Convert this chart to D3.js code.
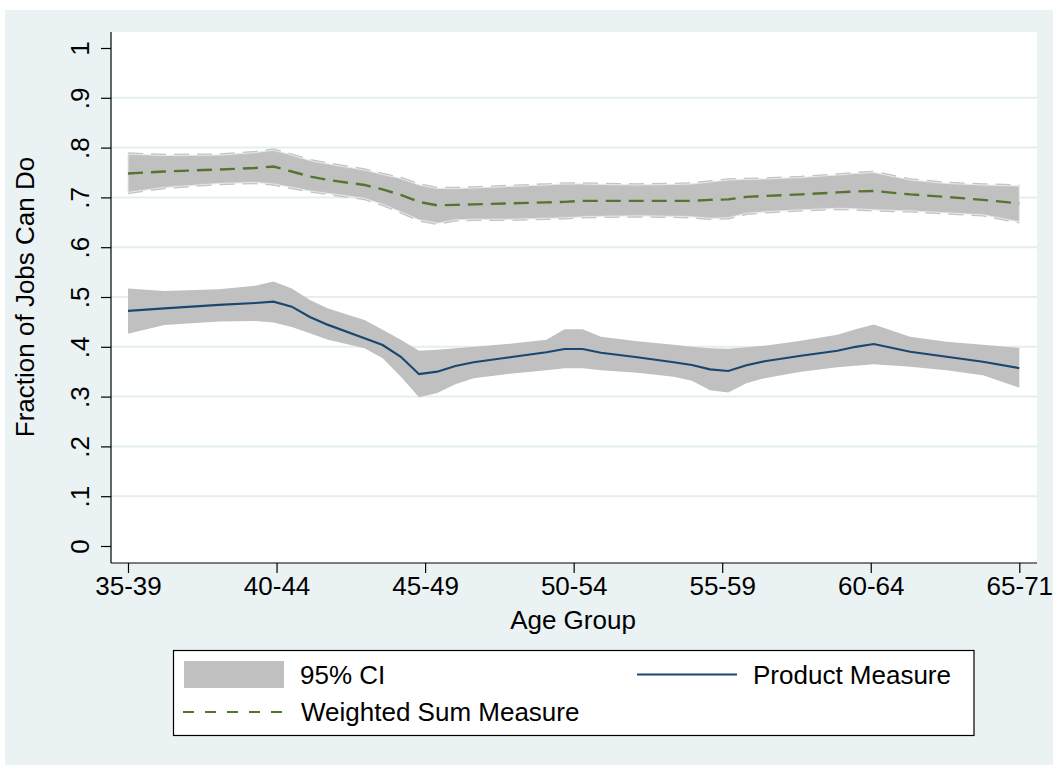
<!DOCTYPE html>
<html><head><meta charset="utf-8">
<script src="https://cdn.jsdelivr.net/npm/d3@7/dist/d3.min.js"></script>
<style>
html,body{margin:0;padding:0;background:#fff;}
text{font-family:"Liberation Sans",Arial,sans-serif;fill:#000;}
</style></head>
<body>
<svg id="chart" width="1053" height="765"></svg>
<script>
// ---- data (x = point index along the age axis, 0..49) ----
const ageGroups = ["35-39","40-44","45-49","50-54","55-59","60-64","65-71"];
const yTicks = [0,0.1,0.2,0.3,0.4,0.5,0.6,0.7,0.8,0.9,1];
const yTickLabels = ["0",".1",".2",".3",".4",".5",".6",".7",".8",".9","1"];
const pointIndex = [0,2,5,7,8,9,10,11,13,14,15,16,17,18,19,21,23,24,25,26,28,30,31,32,33,34,35,37,39,40,41,43,45,47,49];
const productMeasure = [.472,.477,.484,.488,.4906,.4806,.460,.444,.417,.4036,.380,.345,.350,.3614,.369,.379,.389,.3956,.3956,.388,.379,.369,.3635,.3548,.3514,.363,.371,.382,.392,.400,.4056,.390,.380,.370,.357];
const productUpper = [.517,.512,.5155,.5227,.531,.517,.494,.477,.454,.434,.414,.392,.394,.397,.400,.406,.414,.435,.435,.420,.411,.404,.400,.397,.396,.399,.402,.412,.424,.435,.445,.420,.410,.404,.398];
const productLower = [.426,.444,.451,.452,.449,.440,.427,.414,.397,.377,.340,.2985,.307,.325,.337,.346,.353,.357,.357,.353,.348,.340,.332,.313,.308,.327,.337,.350,.359,.362,.365,.360,.353,.343,.318];
const weightedSum = [.748,.752,.756,.759,.762,.752,.742,.735,.725,.716,.705,.691,.684,.685,.686,.688,.690,.691,.693,.693,.693,.693,.693,.695,.696,.701,.703,.706,.710,.712,.713,.706,.701,.695,.688];
const weightedUpper = [.787,.784,.785,.790,.795,.785,.774,.767,.755,.746,.738,.725,.718,.718,.719,.722,.725,.727,.727,.726,.725,.726,.727,.731,.735,.736,.737,.740,.745,.748,.750,.735,.728,.725,.723];
const weightedLower = [.710,.720,.728,.730,.727,.720,.713,.708,.698,.686,.671,.655,.648,.655,.656,.656,.658,.659,.661,.662,.663,.662,.661,.658,.659,.668,.671,.675,.678,.677,.675,.673,.669,.665,.651];
const legendLabels = ["95% CI","Product Measure","Weighted Sum Measure"];

const nPoints = 49; // last index
const rows = pointIndex.map((k,i)=>({k, p:productMeasure[i], pu:productUpper[i], pl:productLower[i], w:weightedSum[i], wu:weightedUpper[i], wl:weightedLower[i]}));

const svg = d3.select("#chart");
const BG = "#eaf2f3", CI = "#c0c0c0", NAVY = "#1a476f", GREEN = "#55752f";

// outer background
svg.append("rect").attr("x",5).attr("y",10).attr("width",1048).attr("height",755).attr("fill",BG);

const plot = {left:111, right:1037, top:32, bottom:563};
svg.append("rect").attr("x",plot.left).attr("y",plot.top)
  .attr("width",plot.right-plot.left).attr("height",plot.bottom-plot.top).attr("fill","#fff");

const x = d3.scaleLinear().domain([0,nPoints]).range([128,1019.3]);
const y = d3.scaleLinear().domain([0,1]).range([546,48]);

// gridlines (not at min/max)
svg.append("g").selectAll("line").data(yTicks.filter(v=>v>0 && v<1)).join("line")
  .attr("x1",plot.left).attr("x2",plot.right)
  .attr("y1",d=>y(d)).attr("y2",d=>y(d))
  .attr("stroke","#e4eef0").attr("stroke-width",2);

// bands and lines
const area = (lo,hi)=>d3.area().x(d=>x(d.k)).y0(d=>y(d[lo])).y1(d=>y(d[hi]));
const line = key=>d3.line().x(d=>x(d.k)).y(d=>y(d[key]));

svg.append("path").datum(rows).attr("d",area("pl","pu")).attr("fill",CI);
svg.append("path").datum(rows).attr("d",line("p")).attr("fill","none").attr("stroke",NAVY).attr("stroke-width",2.2);

svg.append("path").datum(rows).attr("d",area("wl","wu")).attr("fill",CI);
["wu","wl"].forEach(key=>{
  svg.append("path").datum(rows).attr("d",line(key)).attr("fill","none")
    .attr("stroke","#c4c4c4").attr("stroke-width",3.5).attr("stroke-dasharray","15,8");
});
svg.append("path").datum(rows).attr("d",area("wl","wu")).attr("fill","none")
  .attr("stroke","#e3e9e9").attr("stroke-width",1);
svg.append("path").datum(rows).attr("d",line("w")).attr("fill","none")
  .attr("stroke",GREEN).attr("stroke-width",2.4).attr("stroke-dasharray","15,8");

// axes
const xTickPos = ageGroups.map((g,i)=>i*nPoints/(ageGroups.length-1));
const xAxis = d3.axisBottom(x).tickValues(xTickPos).tickFormat((d,i)=>ageGroups[i]).tickSize(10).tickSizeOuter(0);
const gx = svg.append("g").attr("transform",`translate(0,${plot.bottom})`).call(xAxis);
gx.select(".domain").attr("d",`M${plot.left},0H${plot.right}`).attr("stroke","#000").attr("stroke-width",1.2);
gx.selectAll(".tick line").attr("stroke","#000").attr("stroke-width",1.2);
gx.selectAll(".tick text").attr("font-size",26).attr("font-family","Liberation Sans, Arial, sans-serif")
  .attr("fill","#000").attr("y",14).attr("dy","0.71em");

const yAxis = d3.axisLeft(y).tickValues(yTicks).tickFormat((d,i)=>yTickLabels[i]).tickSize(10).tickSizeOuter(0);
const gy = svg.append("g").attr("transform",`translate(${plot.left},0)`).call(yAxis);
gy.select(".domain").attr("d",`M0,${plot.top}V${plot.bottom}`).attr("stroke","#000").attr("stroke-width",1.2);
gy.selectAll(".tick line").attr("stroke","#000").attr("stroke-width",1.2);
gy.selectAll(".tick text").attr("font-size",26).attr("font-family","Liberation Sans, Arial, sans-serif")
  .attr("fill","#000").attr("x",null).attr("dy",null)
  .attr("text-anchor","middle")
  .attr("transform","translate(-22,0) rotate(-90)");

// axis titles
svg.append("text").attr("x",573).attr("y",629).attr("text-anchor","middle").attr("font-size",26).text("Age Group");
svg.append("text").attr("transform","translate(34,297) rotate(-90)").attr("text-anchor","middle").attr("font-size",26).text("Fraction of Jobs Can Do");

// legend
const lg = svg.append("g");
lg.append("rect").attr("x",173.5).attr("y",650.5).attr("width",800.5).attr("height",85)
  .attr("fill","#fff").attr("stroke","#000").attr("stroke-width",1.2);
lg.append("rect").attr("x",184).attr("y",661).attr("width",100).attr("height",27).attr("fill",CI);
lg.append("text").attr("x",300).attr("y",684).attr("font-size",26).text(legendLabels[0]);
lg.append("line").attr("x1",637).attr("x2",737).attr("y1",674.5).attr("y2",674.5).attr("stroke",NAVY).attr("stroke-width",2.2);
lg.append("text").attr("x",753).attr("y",684).attr("font-size",26).text(legendLabels[1]);
lg.append("line").attr("x1",183).attr("x2",284).attr("y1",712).attr("y2",712).attr("stroke",GREEN).attr("stroke-width",2.2).attr("stroke-dasharray","11,11");
lg.append("text").attr("x",301).attr("y",721).attr("font-size",26).text(legendLabels[2]);
</script>
</body></html>
